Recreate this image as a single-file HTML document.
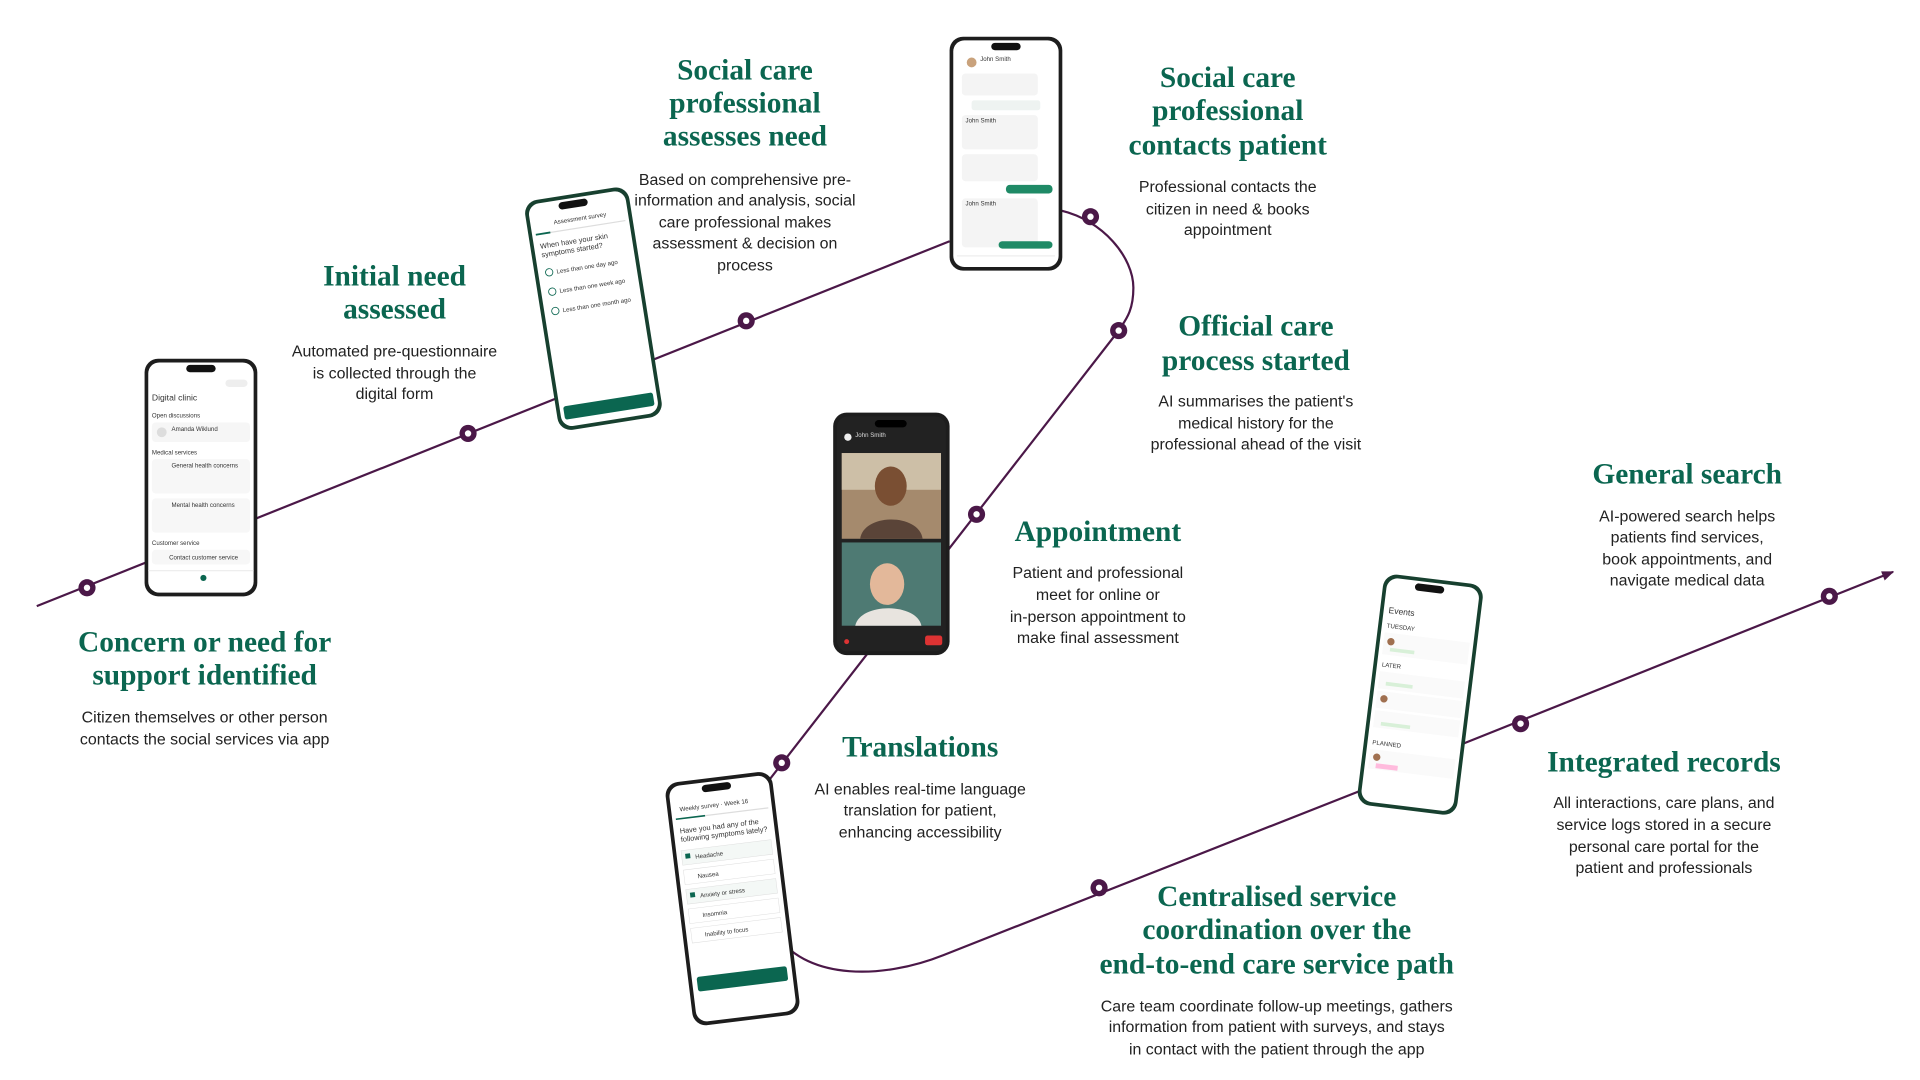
<!DOCTYPE html>
<html><head><meta charset="utf-8"><style>
html,body{margin:0;padding:0;background:#fff;width:1920px;height:1080px;overflow:hidden}
.t{font-family:"Liberation Serif",serif;font-weight:bold;font-size:24px;fill:#0b6650;text-anchor:middle}
.b{font-family:"Liberation Sans",sans-serif;font-size:13px;fill:#222;text-anchor:middle}
.s{font-family:"Liberation Sans",sans-serif;font-size:5px;fill:#333}
</style></head><body>
<svg width="1920" height="1080" viewBox="0 0 1567 882" preserveAspectRatio="none" xmlns="http://www.w3.org/2000/svg">
<defs>
<marker id="ar" markerWidth="10" markerHeight="8" refX="9" refY="4" orient="auto" markerUnits="userSpaceOnUse"><path d="M0,0 L10,4 L0,8 z" fill="#4b1848"/></marker>
<g id="dot"><circle r="7" fill="#4b1848"/><circle r="2.6" fill="#fff"/></g>
</defs>
<g fill="none" stroke="#4b1848" stroke-width="1.8">
<path d="M30,495 L775,197"/>
<path d="M866,172 C900,180 925,210 925,235 C925,255 918,262 913,270 L613,656"/>
<path d="M635,765 C660,800 720,800 770,780 L1130,638"/>
<path d="M1195,607 L1545,467" marker-end="url(#ar)"/>
</g>
<!-- phone 1 -->
<g transform="translate(118,293)">
<rect width="92" height="194" rx="11" fill="#1d1d1d"/><rect x="3" y="3" width="86" height="188" rx="9" fill="#fff"/>
<rect x="34" y="5" width="24" height="6" rx="3" fill="#111"/>
<text class="s" x="6" y="34" style="font-size:7px">Digital clinic</text>
<rect x="66" y="17" width="18" height="6" rx="3" fill="#eee"/>
<text class="s" x="6" y="48">Open discussions</text><rect x="6" y="52" width="80" height="16" rx="3" fill="#f6f6f6"/><circle cx="14" cy="60" r="4" fill="#ddd"/><text class="s" x="22" y="59">Amanda Wiklund</text>
<text class="s" x="6" y="78">Medical services</text><rect x="6" y="82" width="80" height="28" rx="3" fill="#f7f7f7"/><text class="s" x="22" y="89">General health concerns</text>
<rect x="6" y="114" width="80" height="28" rx="3" fill="#f7f7f7"/><text class="s" x="22" y="121">Mental health concerns</text>
<text class="s" x="6" y="152">Customer service</text><rect x="6" y="156" width="80" height="12" rx="3" fill="#f7f7f7"/><text class="s" x="20" y="164">Contact customer service</text>
<line x1="3" y1="173" x2="89" y2="173" stroke="#eee"/><circle cx="48" cy="179" r="2.5" fill="#0b6650"/>
</g>
<!-- phone 2 -->
<g transform="translate(427,165) rotate(-9)">
<rect width="86" height="190" rx="11" fill="#17402f"/><rect x="3" y="3" width="80" height="184" rx="9" fill="#fff"/>
<rect x="28" y="5" width="24" height="6" rx="3" fill="#111"/>
<text class="s" x="22" y="22">Assessment survey</text><line x1="6" y1="28" x2="80" y2="28" stroke="#ddd"/><line x1="6" y1="28" x2="18" y2="28" stroke="#0b6650" stroke-width="1.5"/>
<text class="s" x="8" y="40" style="font-size:6px">When have your skin</text><text class="s" x="8" y="47" style="font-size:6px">symptoms started?</text>
<circle cx="12" cy="60" r="3" fill="none" stroke="#0b6650" stroke-width=".7"/><text class="s" x="18" y="62">Less than one day ago</text>
<circle cx="12" cy="76" r="3" fill="none" stroke="#0b6650" stroke-width=".7"/><text class="s" x="18" y="78">Less than one week ago</text>
<circle cx="12" cy="92" r="3" fill="none" stroke="#0b6650" stroke-width=".7"/><text class="s" x="18" y="94">Less than one month ago</text>
<rect x="6" y="170" width="74" height="11" rx="2" fill="#0b6650"/>
</g>
<!-- phone 3 -->
<g transform="translate(775,30)">
<rect width="92" height="191" rx="11" fill="#1d1d1d"/><rect x="3" y="3" width="86" height="185" rx="9" fill="#fff"/>
<rect x="34" y="5" width="24" height="6" rx="3" fill="#111"/>
<circle cx="18" cy="21" r="4" fill="#c9a27c"/><text class="s" x="25" y="20">John Smith</text>
<rect x="10" y="30" width="62" height="18" rx="3" fill="#f4f4f4"/>
<rect x="18" y="52" width="56" height="8" rx="2" fill="#eef3f1"/>
<rect x="10" y="64" width="62" height="28" rx="3" fill="#f4f4f4"/><text class="s" x="13" y="70">John Smith</text>
<rect x="10" y="96" width="62" height="22" rx="3" fill="#f4f4f4"/>
<rect x="46" y="121" width="38" height="7" rx="3" fill="#1f8a66"/>
<rect x="10" y="132" width="62" height="40" rx="3" fill="#f4f4f4"/><text class="s" x="13" y="138">John Smith</text>
<rect x="40" y="167" width="44" height="6" rx="3" fill="#1f8a66"/>
<line x1="6" y1="179" x2="86" y2="179" stroke="#eee"/>
</g>
<!-- phone 4 video -->
<g transform="translate(680,337)">
<rect width="95" height="198" rx="11" fill="#1d1d1d"/><rect x="3" y="3" width="89" height="192" rx="9" fill="#222"/>
<rect x="34" y="6" width="26" height="6" rx="3" fill="#000"/>
<text class="s" x="18" y="20" style="fill:#ddd">John Smith</text><circle cx="12" cy="20" r="3" fill="#eee"/>
<rect x="7" y="33" width="81" height="70" fill="#a58a6d"/><rect x="7" y="33" width="81" height="30" fill="#cdbfa7"/><ellipse cx="47" cy="60" rx="13" ry="16" fill="#7a4f33"/><path d="M22,103 C25,82 70,82 73,103 z" fill="#5a4438"/>
<rect x="7" y="106" width="81" height="68" fill="#4e7a73"/><ellipse cx="44" cy="140" rx="14" ry="17" fill="#e3b89a"/><path d="M18,174 C22,155 68,155 72,174 z" fill="#e8e4df"/>
<rect x="75" y="182" width="14" height="8" rx="2" fill="#d33"/><circle cx="11" cy="187" r="2" fill="#d33"/>
</g>
<!-- phone 5 -->
<g transform="translate(542,640) rotate(-7)">
<rect width="88" height="200" rx="11" fill="#1d1d1d"/><rect x="3" y="3" width="82" height="194" rx="9" fill="#fff"/>
<rect x="30" y="5" width="24" height="6" rx="3" fill="#111"/>
<text class="s" x="10" y="24">Weekly survey · Week 16</text><line x1="6" y1="30" x2="82" y2="30" stroke="#ddd"/><line x1="6" y1="30" x2="30" y2="30" stroke="#0b6650" stroke-width="1.3"/>
<text class="s" x="8" y="42" style="font-size:6px">Have you had any of the</text><text class="s" x="8" y="49" style="font-size:6px">following symptoms lately?</text>
<rect x="7" y="56" width="74" height="12" fill="#f4f8f6" stroke="#ddd" stroke-width=".4"/><rect x="10" y="59" width="4" height="4" fill="#0b6650"/><text class="s" x="18" y="64">Headache</text>
<rect x="7" y="72" width="74" height="12" fill="#fff" stroke="#ddd" stroke-width=".4"/><text class="s" x="18" y="80">Nausea</text>
<rect x="7" y="88" width="74" height="12" fill="#f4f8f6" stroke="#ddd" stroke-width=".4"/><rect x="10" y="91" width="4" height="4" fill="#0b6650"/><text class="s" x="18" y="96">Anxiety or stress</text>
<rect x="7" y="104" width="74" height="12" fill="#fff" stroke="#ddd" stroke-width=".4"/><text class="s" x="18" y="112">Insomnia</text>
<rect x="7" y="120" width="74" height="12" fill="#fff" stroke="#ddd" stroke-width=".4"/><text class="s" x="18" y="128">Inability to focus</text>
<rect x="7" y="160" width="74" height="12" rx="2" fill="#0b6650"/>
</g>
<!-- phone 6 -->
<g transform="translate(1130,468) rotate(7)">
<rect width="82" height="190" rx="11" fill="#17402f"/><rect x="3" y="3" width="76" height="184" rx="9" fill="#fff"/>
<rect x="26" y="5" width="24" height="6" rx="3" fill="#111"/>
<text class="s" x="7" y="32" style="font-size:7px">Events</text>
<text class="s" x="7" y="44">TUESDAY</text><rect x="6" y="48" width="70" height="18" fill="#fafafa"/><circle cx="12" cy="55" r="3" fill="#a07050"/><rect x="12" y="60" width="20" height="3" fill="#d8f0d8"/>
<text class="s" x="7" y="76">LATER</text><rect x="6" y="80" width="70" height="14" fill="#fafafa"/><rect x="12" y="88" width="22" height="3" fill="#d8f0d8"/>
<rect x="6" y="96" width="70" height="14" fill="#fafafa"/><circle cx="12" cy="102" r="3" fill="#a07050"/>
<rect x="6" y="112" width="70" height="14" fill="#fafafa"/><rect x="12" y="121" width="24" height="3" fill="#d8f0d8"/>
<text class="s" x="7" y="140">PLANNED</text><rect x="6" y="144" width="70" height="16" fill="#fafafa"/><circle cx="12" cy="150" r="3" fill="#a07050"/><rect x="12" y="155" width="18" height="4" fill="#fbd"/>
</g>
<!-- dots -->
<use href="#dot" x="71" y="480"/><use href="#dot" x="382" y="354"/><use href="#dot" x="609" y="262"/>
<use href="#dot" x="890" y="177"/><use href="#dot" x="913" y="270"/><use href="#dot" x="797" y="420"/>
<use href="#dot" x="638" y="623"/><use href="#dot" x="897" y="725"/><use href="#dot" x="1241" y="591"/><use href="#dot" x="1493" y="487"/>
<!-- texts -->
<text class="t" x="167" y="532">Concern or need for</text><text class="t" x="167" y="559">support identified</text>
<text class="b" x="167" y="590">Citizen themselves or other person</text><text class="b" x="167" y="608">contacts the social services via app</text>

<text class="t" x="322" y="233">Initial need</text><text class="t" x="322" y="260">assessed</text>
<text class="b" x="322" y="291">Automated pre-questionnaire</text><text class="b" x="322" y="309">is collected through the</text><text class="b" x="322" y="326">digital form</text>

<text class="t" x="608" y="65">Social care</text><text class="t" x="608" y="92">professional</text><text class="t" x="608" y="119">assesses need</text>
<text class="b" x="608" y="151">Based on comprehensive pre-</text><text class="b" x="608" y="168">information and analysis, social</text><text class="b" x="608" y="186">care professional makes</text><text class="b" x="608" y="203">assessment &amp; decision on</text><text class="b" x="608" y="221">process</text>

<text class="t" x="1002" y="71">Social care</text><text class="t" x="1002" y="98">professional</text><text class="t" x="1002" y="126">contacts patient</text>
<text class="b" x="1002" y="157">Professional contacts the</text><text class="b" x="1002" y="175">citizen in need &amp; books</text><text class="b" x="1002" y="192">appointment</text>

<text class="t" x="1025" y="274">Official care</text><text class="t" x="1025" y="302">process started</text>
<text class="b" x="1025" y="332">AI summarises the patient's</text><text class="b" x="1025" y="350">medical history for the</text><text class="b" x="1025" y="367">professional ahead of the visit</text>

<text class="t" x="896" y="442">Appointment</text>
<text class="b" x="896" y="472">Patient and professional</text><text class="b" x="896" y="490">meet for online or</text><text class="b" x="896" y="508">in-person appointment to</text><text class="b" x="896" y="525">make final assessment</text>

<text class="t" x="751" y="618">Translations</text>
<text class="b" x="751" y="649">AI enables real-time language</text><text class="b" x="751" y="666">translation for patient,</text><text class="b" x="751" y="684">enhancing accessibility</text>

<text class="t" x="1042" y="740">Centralised service</text><text class="t" x="1042" y="767">coordination over the</text><text class="t" x="1042" y="795">end-to-end care service path</text>
<text class="b" x="1042" y="826">Care team coordinate follow-up meetings, gathers</text><text class="b" x="1042" y="843">information from patient with surveys, and stays</text><text class="b" x="1042" y="861">in contact with the patient through the app</text>

<text class="t" x="1377" y="395">General search</text>
<text class="b" x="1377" y="426">AI-powered search helps</text><text class="b" x="1377" y="443">patients find services,</text><text class="b" x="1377" y="461">book appointments, and</text><text class="b" x="1377" y="478">navigate medical data</text>

<text class="t" x="1358" y="630">Integrated records</text>
<text class="b" x="1358" y="660">All interactions, care plans, and</text><text class="b" x="1358" y="678">service logs stored in a secure</text><text class="b" x="1358" y="696">personal care portal for the</text><text class="b" x="1358" y="713">patient and professionals</text>
</svg>
</body></html>
